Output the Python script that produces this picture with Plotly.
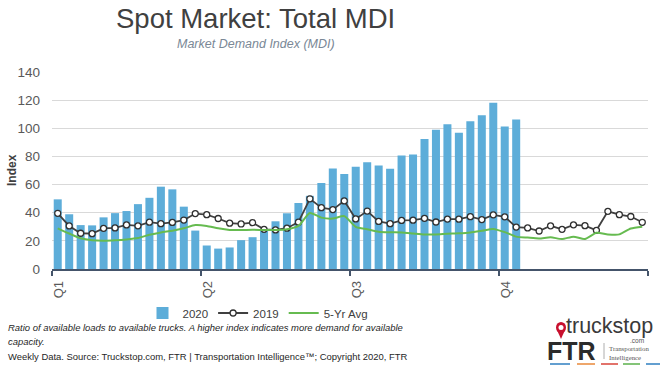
import plotly.graph_objects as go

# ---------------- data ----------------
weeks = list(range(1, 53))
quarters = ["Q1", "Q2", "Q3", "Q4"]
weeks_per_quarter = 13

mdi_2020 = [49.5, 38.9, 31.2, 31.0, 36.7, 39.7, 41.2, 46.1, 50.6, 58.5, 56.6, 44.3, 27.3,
            16.7, 14.5, 15.3, 20.5, 22.6, 28.5, 33.9, 39.6, 46.9, 52.0, 61.2, 71.5, 67.5,
            72.6, 75.8, 73.5, 71.3, 80.6, 81.3, 92.4, 99.0, 102.8, 96.9, 105.0, 109.2, 118.2,
            101.2, 106.2]

mdi_2019 = [39.6, 30.6, 25.4, 25.1, 28.9, 29.2, 31.3, 30.7, 33.3, 32.2, 33.1, 34.8, 39.4,
            38.6, 35.9, 32.6, 32.0, 32.9, 28.2, 27.8, 29.0, 33.3, 49.9, 43.6, 42.2, 48.4,
            35.6, 41.2, 33.8, 32.2, 34.5, 34.7, 36.0, 33.4, 35.5, 35.4, 37.2, 35.1, 38.5,
            37.1, 29.8, 29.2, 27.0, 30.7, 28.2, 31.4, 30.8, 27.5, 41.0, 38.6, 37.3, 33.2]

avg_5yr = [28.9, 25.2, 21.8, 20.4, 20.1, 20.4, 21.0, 22.0, 24.3, 26.0, 27.2, 28.9, 31.2,
           30.6, 28.9, 27.8, 27.7, 27.9, 27.7, 27.7, 28.2, 30.6, 39.8, 36.5, 35.8, 37.6,
           30.0, 28.3, 26.5, 26.1, 26.0, 25.3, 24.6, 24.6, 25.1, 25.4, 26.0, 27.2, 28.5,
           26.2, 23.0, 22.3, 21.7, 22.5, 21.3, 23.0, 21.3, 25.7, 24.6, 24.6, 28.8, 30.1]

y_ticks = [0, 20, 40, 60, 80, 100, 120, 140]

# ---------------- layout helpers (pixel -> paper) ----------------
W, H = 660, 367
L, R, T, B = 52, 12, 72, 98
PW, PH = W - L - R, H - T - B


def px(x):
    return (x - L) / PW


def py(y):
    return (H - B - y) / PH


SANS = "Liberation Sans, Arial, sans-serif"

fig = go.Figure()
fig.add_trace(go.Bar(
    x=weeks[:len(mdi_2020)], y=mdi_2020, name="2020",
    marker=dict(color="#5DADD9", line=dict(width=0)),
))
fig.add_trace(go.Scatter(
    x=weeks, y=mdi_2019, name="2019", mode="lines+markers",
    line=dict(color="#404040", width=1.8),
    marker=dict(symbol="circle", size=6, color="white",
                line=dict(color="#303030", width=1.3)),
))
fig.add_trace(go.Scatter(
    x=weeks, y=avg_5yr, name="5-Yr Avg", mode="lines",
    line=dict(color="#66BB50", width=2, shape="spline", smoothing=0.6),
))

tickvals = [0.5 + i * weeks_per_quarter for i in range(len(quarters) + 1)]
ticktext = quarters + [""]

fig.update_layout(
    width=W, height=H,
    margin=dict(l=L, r=R, t=T, b=B),
    paper_bgcolor="white", plot_bgcolor="white",
    bargap=0.3,
    showlegend=True,
    legend=dict(orientation="h", x=px(258), y=py(313), xanchor="center", yanchor="middle",
                font=dict(family=SANS, size=11.5, color="#404040"),
                itemwidth=30, tracegroupgap=0, bgcolor="rgba(0,0,0,0)"),
    font=dict(family=SANS),
)

fig.update_xaxes(
    range=[0.5, 52.5], tickmode="array", tickvals=tickvals, ticktext=ticktext,
    tickangle=-90, ticks="outside", ticklen=5, tickwidth=1.5, tickcolor="#44546A",
    showline=True, linecolor="#44546A", linewidth=1.5, showgrid=False, zeroline=False,
    tickfont=dict(family=SANS, size=13, color="#595959"), ticklabelshift=7,
)
fig.update_yaxes(
    range=[0, 140], tickmode="array", tickvals=y_ticks,
    showgrid=True, gridcolor="#D9D9D9", gridwidth=1, zeroline=False, showline=False,
    tickfont=dict(family=SANS, size=13.5, color="#595959"), ticklabelstandoff=11,
)

FOOT = dict(family=SANS, size=9.45, color="#262626")
ann = []
ann.append(dict(text="Spot Market: Total MDI", x=px(255), y=py(18), xref="paper", yref="paper",
                xanchor="center", yanchor="middle", showarrow=False,
                font=dict(family=SANS, size=27.5, color="#404040")))
ann.append(dict(text="<i>Market Demand Index (MDI)</i>", x=px(256), y=py(44), xref="paper", yref="paper",
                xanchor="center", yanchor="middle", showarrow=False,
                font=dict(family=SANS, size=12.5, color="#7A8896")))
ann.append(dict(text="<b>Index</b>", x=px(12), y=py(170), xref="paper", yref="paper",
                xanchor="center", yanchor="middle", showarrow=False, textangle=-90,
                font=dict(family=SANS, size=12, color="#404040")))
ann.append(dict(text="<i>Ratio of available loads to available trucks. A higher index indicates more demand for available</i>",
                x=px(6), y=py(327), xref="paper", yref="paper", xanchor="left", yanchor="middle",
                showarrow=False, font=FOOT))
ann.append(dict(text="<i>capacity.</i>",
                x=px(6), y=py(341), xref="paper", yref="paper", xanchor="left", yanchor="middle",
                showarrow=False, font=FOOT))
ann.append(dict(text="Weekly Data. Source: Truckstop.com, FTR | Transportation Intelligence™; Copyright 2020, FTR",
                x=px(6), y=py(356), xref="paper", yref="paper", xanchor="left", yanchor="middle",
                showarrow=False, font=FOOT))
# logo texts
ann.append(dict(text="truckstop", x=px(564), y=py(325.5), xref="paper", yref="paper", xanchor="left",
                yanchor="middle", showarrow=False,
                font=dict(family=SANS, size=21.5, color="#3A3A3A")))
ann.append(dict(text=".com", x=px(646), y=py(340.5), xref="paper", yref="paper", xanchor="right",
                yanchor="middle", showarrow=False,
                font=dict(family=SANS, size=6.5, color="#555555")))
ann.append(dict(text="<b>FTR</b>", x=px(545), y=py(351), xref="paper", yref="paper", xanchor="left",
                yanchor="middle", showarrow=False,
                font=dict(family=SANS, size=25, color="#2B2B2B")))
ann.append(dict(text="Transportation<br>Intelligence", x=px(607), y=py(352.5), xref="paper", yref="paper",
                xanchor="left", yanchor="middle", showarrow=False, align="left",
                font=dict(family="Liberation Serif, serif", size=6.8, color="#555555")))
fig.update_layout(annotations=ann)

shapes = []
# pin icon
shapes.append(dict(type="circle", xref="paper", yref="paper", x0=px(556), x1=px(566),
                   y0=py(333), y1=py(322), fillcolor="#C8102E", line=dict(width=0)))
shapes.append(dict(type="path", xref="paper", yref="paper",
                   path=f"M {px(557)} {py(330)} L {px(565)} {py(330)} L {px(561)} {py(339)} Z",
                   fillcolor="#C8102E", line=dict(width=0)))
shapes.append(dict(type="circle", xref="paper", yref="paper", x0=px(558.5), x1=px(563.5),
                   y0=py(330), y1=py(325), fillcolor="white", line=dict(width=0)))
shapes.append(dict(type="line", xref="paper", yref="paper", x0=px(604), x1=px(604),
                   y0=py(343), y1=py(359), line=dict(color="#999999", width=0.8)))
for x0, x1, c in [(550, 570, "#2F7FC1"), (577, 595, "#E8883A"), (601, 618, "#D9443A"),
                  (623, 640, "#5BB14B"), (646, 660, "#2F7FC1")]:
    shapes.append(dict(type="line", xref="paper", yref="paper", x0=px(x0), x1=px(x1),
                       y0=py(364), y1=py(364), line=dict(color=c, width=1.5)))
fig.update_layout(shapes=shapes)

fig.write_html("out.html", config={"displayModeBar": False},
               post_script="document.body.style.margin='0px';document.body.style.overflow='hidden';")
